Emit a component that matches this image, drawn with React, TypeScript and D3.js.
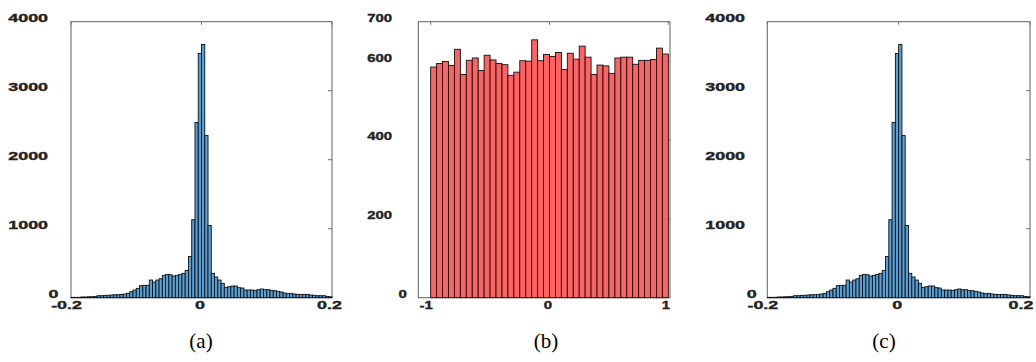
import * as d3 from 'd3';
import { useEffect, useRef } from 'react';

// (a) and (c): same histogram, 80 bins of 0.005 from -0.2 to 0.2
const countsA = [
  5, 5, 5, 10, 10, 14, 14, 19,
  29, 29, 34, 34, 39, 43, 43, 48,
  53, 63, 87, 111, 135, 174, 179, 179,
  256, 227, 256, 275, 324, 338, 333, 314,
  324, 338, 353, 396, 597, 1130, 2540, 3540,
  3670, 2350, 1046, 353, 300, 256, 208, 150,
  159, 169, 169, 145, 140, 111, 111, 111,
  106, 116, 126, 116, 116, 106, 101, 92,
  82, 68, 58, 63, 53, 48, 48, 48,
  48, 39, 34, 29, 29, 29, 19, 14,
];
// (b): 40 bins of 0.05 from -1 to 1
const countsB = [
  585, 594, 599, 589, 630, 566, 602, 608, 576, 615,
  603, 594, 591, 564, 572, 601, 600, 654, 601, 617,
  612, 622, 579, 620, 605, 638, 610, 566, 590, 588,
  569, 608, 610, 610, 592, 602, 602, 604, 633, 618,
];
const yTicksA = [0, 1000, 2000, 3000, 4000];
const yTicksB = [0, 200, 400, 600, 700];
const xTicksA = [-0.2, 0, 0.2];
const xTicksB = [-1, 0, 1];
const captions = ['(a)', '(b)', '(c)'];

const width = 1036;
const height = 362;
const top = 21.7;
const bottom = 297.7;

const panels = [
  { counts: countsA, start: -0.2, step: 0.005, xDomain: [-0.2, 0.2], yMax: 4000, yTicks: yTicksA, xTicks: xTicksA,
    left: 71, right: 332, fill: '#579fd6', stretch: 1.7, gap: 23, gapZero: 12.7, capX: 201, caption: captions[0] },
  { counts: countsB, start: -1, step: 0.05, xDomain: [-1.104, 1.014], yMax: 700, yTicks: yTicksB, xTicks: xTicksB,
    left: 418.3, right: 670, fill: '#ff6262', stretch: 1.42, gap: 26.3, gapZero: 11.6, capX: 546, caption: captions[1] },
  { counts: countsA, start: -0.2, step: 0.005, xDomain: [-0.2, 0.2], yMax: 4000, yTicks: yTicksA, xTicks: xTicksA,
    left: 767.3, right: 1030, fill: '#579fd6', stretch: 1.7, gap: 22.3, gapZero: 10.6, capX: 884, caption: captions[2] },
];

const tickFont = "'Liberation Sans', Arial, sans-serif";

const App = () => {
  const svgRef = useRef<SVGSVGElement>(null);

  useEffect(() => {
    const svg = d3.select(svgRef.current);
    svg.selectAll('*').remove();

    panels.forEach((p) => {
      const x = d3.scaleLinear(p.xDomain, [p.left, p.right]);
      const y = d3.scaleLinear([0, p.yMax], [bottom, top]);
      const g = svg.append('g');

      // box
      g.append('rect')
        .attr('x', p.left)
        .attr('y', top)
        .attr('width', p.right - p.left)
        .attr('height', bottom - top)
        .attr('fill', 'none')
        .attr('stroke', '#606060')
        .attr('stroke-width', 1);

      // inward ticks on the right side and top
      g.selectAll('.yt')
        .data(p.yTicks.filter((v) => v > 0 && v < p.yMax))
        .join('line')
        .attr('x1', p.right - 4)
        .attr('x2', p.right)
        .attr('y1', (d) => y(d))
        .attr('y2', (d) => y(d))
        .attr('stroke', '#707070');
      g.selectAll('.xt')
        .data(p.xTicks)
        .join('line')
        .attr('x1', (d) => x(d))
        .attr('x2', (d) => x(d))
        .attr('y1', top)
        .attr('y2', top + 3)
        .attr('stroke', '#707070');

      // bars
      const bw = x(p.start + p.step) - x(p.start);
      g.selectAll('.bar')
        .data(p.counts)
        .join('rect')
        .attr('x', (_, i) => x(p.start + i * p.step))
        .attr('y', (d) => y(d))
        .attr('width', bw)
        .attr('height', (d) => bottom - y(d))
        .attr('fill', p.fill)
        .attr('stroke', '#111')
        .attr('stroke-width', 0.9);

      // y labels (the figure is stretched sideways, so the text is too)
      g.selectAll('.yl')
        .data(p.yTicks)
        .join('text')
        .attr('transform', (d) =>
          `translate(${p.left - (d === 0 ? p.gapZero : p.gap)},${y(d) + 0.4}) scale(${p.stretch},1)`)
        .attr('text-anchor', 'end')
        .attr('font-family', tickFont)
        .attr('font-weight', 'bold')
        .attr('font-size', 10.5)
        .attr('fill', '#222')
        .attr('stroke', '#222')
        .attr('stroke-width', 0.35)
        .text((d) => String(d));

      // x labels; the last one is kept inside the page edge
      g.selectAll('.xl')
        .data(p.xTicks)
        .join('text')
        .attr('transform', (d) => {
          const dx = d < 0 ? -4.5 : d > 0 ? -2.5 : -1.5;
          const cx = Math.min(x(d) + dx, width - 15);
          return `translate(${cx},${bottom + 11}) scale(${p.stretch},1)`;
        })
        .attr('text-anchor', 'middle')
        .attr('font-family', tickFont)
        .attr('font-weight', 'bold')
        .attr('font-size', 10.5)
        .attr('fill', '#222')
        .attr('stroke', '#222')
        .attr('stroke-width', 0.35)
        .text((d) => String(d));

      // caption
      g.append('text')
        .attr('x', p.capX)
        .attr('y', 348)
        .attr('text-anchor', 'middle')
        .attr('font-family', "'Liberation Serif', 'Times New Roman', serif")
        .attr('font-size', 21)
        .attr('fill', '#000')
        .text(p.caption);
    });
  }, []);

  return (
    <div style={{ position: 'absolute', left: 0, top: 0 }}>
      <svg ref={svgRef} width={width} height={height} style={{ display: 'block', background: '#fff' }} />
    </div>
  );
};

export default App;
